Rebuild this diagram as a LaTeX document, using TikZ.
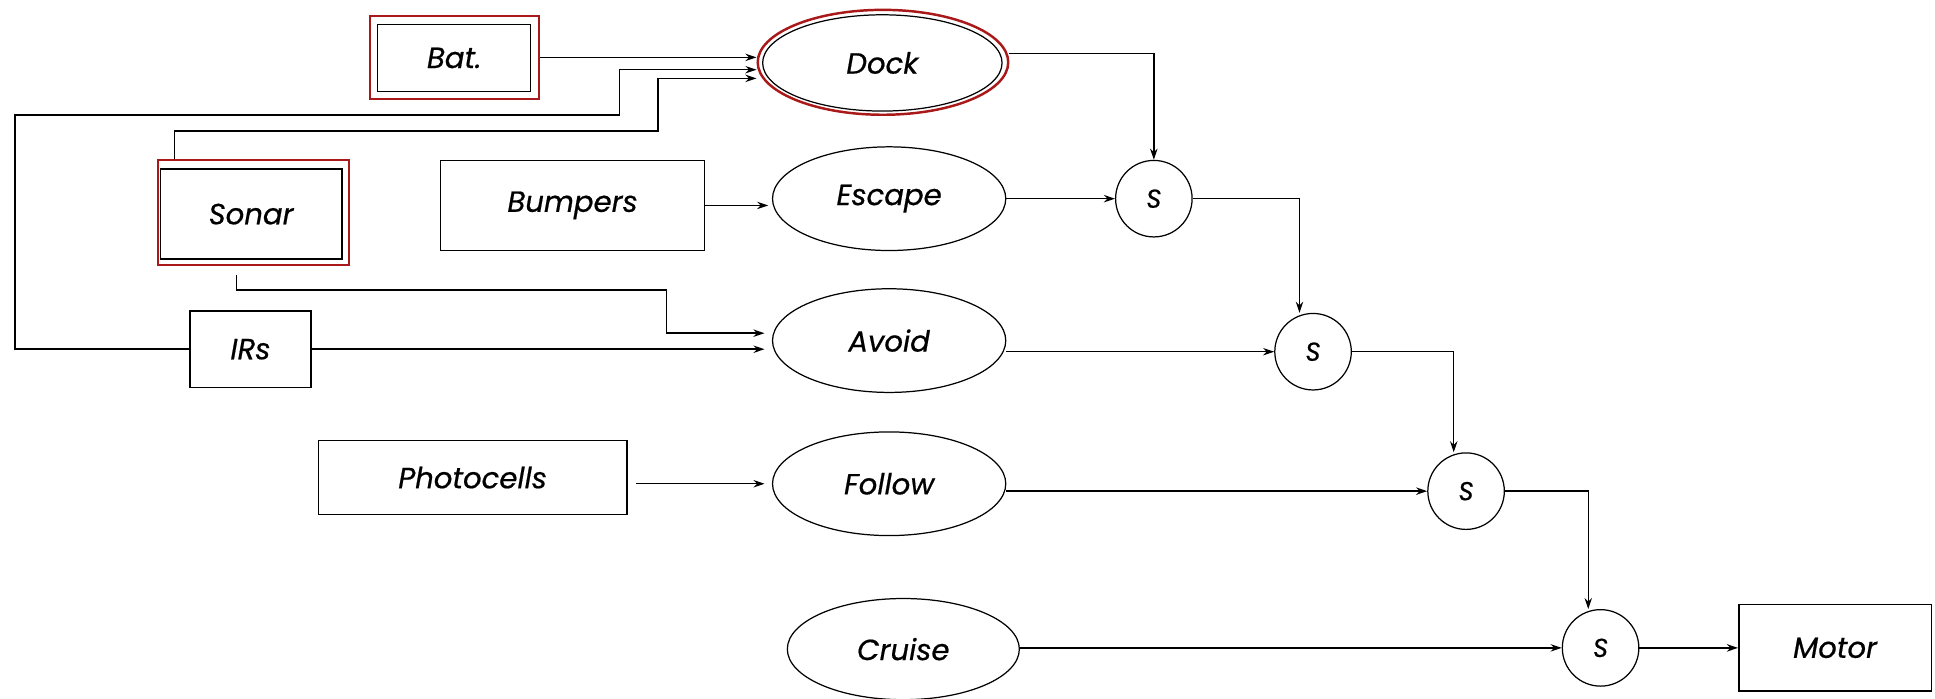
\documentclass[tikz,border=0pt]{standalone}
\usepackage{fontspec}
\setmainfont{Poppins}[FakeBold=0.6]
\usetikzlibrary{shapes.geometric,arrows.meta}
\definecolor{framered}{RGB}{170,25,25}
\begin{document}
\begin{tikzpicture}[x=0.5pt,y=-0.5pt,
  font=\itshape\fontsize{11.8}{14}\selectfont,
  box/.style={draw, line width=0.6pt, inner sep=0pt},
  redbox/.style={draw=framered, line width=0.8pt, inner sep=0pt},
  beh/.style={draw, ellipse, line width=0.5pt, inner sep=0pt, minimum width=94.5pt, minimum height=42pt},
  redell/.style={draw=framered, ellipse, line width=1pt, inner sep=0pt},
  supp/.style={draw, circle, line width=0.5pt, inner sep=0pt, minimum size=31pt, font=\itshape\fontsize{10.5}{12}\selectfont},
  arr/.style={-{Stealth[length=4.5pt,width=3pt]}, line width=0.6pt}
]
\useasboundingbox (0,0) rectangle (1568,566);

% sensors, behaviours, suppressors and the actuator
\node[box, minimum width=62pt, minimum height=27pt] (bat) at (368,47) {Bat.};
\node[redbox, minimum width=68.5pt, minimum height=33.5pt] (batf) at (368.5,46.5) {};
\node[beh, minimum width=97pt, minimum height=39pt] (dock) at (715,51) {Dock};
\node[redell, minimum width=101.5pt, minimum height=42.5pt] (dockf) at (715.5,50.5) {};

\node[box, minimum width=73.5pt, minimum height=36.5pt] (sonar) at (203.5,173.5) {Sonar};
\node[redbox, minimum width=77.5pt, minimum height=42.5pt] (sonarf) at (205.5,172.5) {};
\node[box, minimum width=107pt, minimum height=36.5pt] (bumpers) at (464,166.5) {Bumpers};
\node[beh] (escape) at (720.5,161) {Escape};
\node[supp] (s1) at (935,161) {S};

\node[box, minimum width=49pt, minimum height=31pt] (irs) at (203,283) {IRs};
\node[beh] (avoid) at (720.5,276) {Avoid};
\node[supp] (s2) at (1064,285) {S};

\node[box, minimum width=125pt, minimum height=30pt] (photo) at (383,387) {Photocells};
\node[beh] (follow) at (720.5,392) {Follow};
\node[supp] (s3) at (1188,398) {S};

\node[beh, minimum width=94pt, minimum height=41pt] (cruise) at (732,526) {Cruise};
\node[supp] (s4) at (1297,525) {S};
\node[box, minimum width=78pt, minimum height=35pt] (motor) at (1487,525) {Motor};

% bend points of the routed wires
\coordinate (ia) at (12,93);
\coordinate (ib) at (502,93);
\coordinate (sa) at (533,106);
\coordinate (sc) at (540,235);

% inputs to Dock
\draw[arr] (batf.east) -- (batf.east -| dockf.west);
\draw[arr] (irs.west) -| (ia) -- (ib) |- ([yshift=-3pt]dockf.west);
\draw[arr] ([xshift=-32pt]sonarf.north) |- (sa) |- ([yshift=-6.5pt]dockf.west);

% inputs to the other behaviours
\draw[arr, shorten >=1.5pt] (bumpers.east) -- (bumpers.east -| escape.west);
\draw[arr, shorten >=3pt] ([xshift=-7pt,yshift=-3.5pt]sonarf.south) |- (sc) |- ([yshift=3pt]avoid.west);
\draw[arr, shorten >=3pt] (irs.east) -- (irs.east -| avoid.west);
\draw[arr, shorten >=3pt] ([xshift=3.5pt]photo.east |- follow.west) -- (follow.west);

% suppression chain
\draw[arr] ([yshift=3.5pt]dockf.east) -| (s1.north);
\draw[arr] (escape.east) -- (s1.west);
\draw[arr] (s1.east) -| ([xshift=-5.5pt]s2.north);
\draw[arr] (avoid.east |- s2.west) -- (s2.west);
\draw[arr] (s2.east) -| ([xshift=-5pt]s3.north);
\draw[arr] (follow.east |- s3.west) -- (s3.west);
\draw[arr] (s3.east) -| ([xshift=-5pt]s4.north);
\draw[arr] (cruise.east |- s4.west) -- (s4.west);
\draw[arr] (s4.east) -- (motor.west);
\end{tikzpicture}
\end{document}
